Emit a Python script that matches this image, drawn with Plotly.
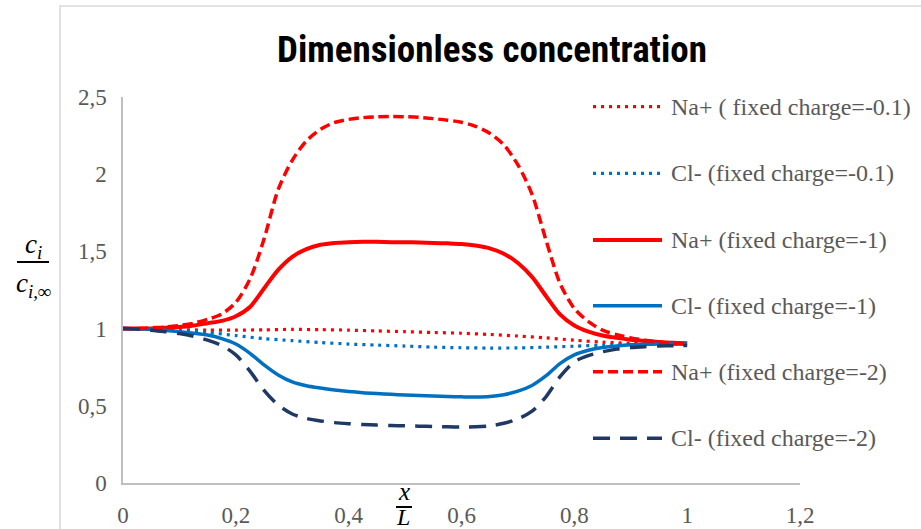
import plotly.graph_objects as go

# ---------------- data ----------------
x_fine = [0.0, 0.025, 0.05, 0.075, 0.1, 0.125, 0.15, 0.175, 0.2, 0.225,
          0.25, 0.275, 0.3, 0.325, 0.35, 0.375, 0.4, 0.425, 0.45, 0.475,
          0.5, 0.525, 0.55, 0.575, 0.6, 0.625, 0.65, 0.675, 0.7, 0.725,
          0.75, 0.775, 0.8, 0.825, 0.85, 0.875, 0.9, 0.925, 0.95, 0.975, 1.0]
x_coarse = [0.0, 0.05, 0.1, 0.15, 0.2, 0.25, 0.3, 0.35, 0.4, 0.45, 0.5,
            0.55, 0.6, 0.65, 0.7, 0.75, 0.8, 0.85, 0.9, 0.95, 1.0]

na_01 = [1.0, 0.998, 0.993, 0.99, 0.99, 0.992, 0.995, 0.993, 0.99, 0.985, 0.98,
         0.975, 0.97, 0.962, 0.952, 0.94, 0.925, 0.912, 0.905, 0.902, 0.9]
cl_01 = [1.0, 0.997, 0.99, 0.975, 0.955, 0.935, 0.922, 0.91, 0.9, 0.893, 0.887,
         0.88, 0.876, 0.874, 0.875, 0.88, 0.886, 0.893, 0.898, 0.9, 0.9]

na_1 = [1.0, 1.0, 1.0, 1.005, 1.01, 1.02, 1.035, 1.05, 1.08, 1.14,
        1.26, 1.38, 1.465, 1.515, 1.543, 1.555, 1.56, 1.562, 1.562, 1.56,
        1.56, 1.558, 1.555, 1.552, 1.548, 1.538, 1.52, 1.485, 1.425, 1.335,
        1.21, 1.09, 1.02, 0.98, 0.955, 0.94, 0.928, 0.92, 0.913, 0.908, 0.905]
cl_1 = [1.0, 0.998, 0.995, 0.99, 0.98, 0.97, 0.958, 0.935, 0.9, 0.84,
        0.765, 0.7, 0.655, 0.63, 0.615, 0.603, 0.593, 0.585, 0.579, 0.574,
        0.57, 0.566, 0.563, 0.56, 0.558, 0.557, 0.56, 0.572, 0.595, 0.632,
        0.695, 0.775, 0.83, 0.86, 0.878, 0.888, 0.895, 0.898, 0.9, 0.9, 0.9]
na_2 = [1.0, 1.0, 1.005, 1.01, 1.02, 1.035, 1.06, 1.095, 1.17, 1.32,
        1.58, 1.90, 2.09, 2.215, 2.29, 2.335, 2.355, 2.366, 2.372, 2.374,
        2.372, 2.368, 2.36, 2.35, 2.337, 2.31, 2.265, 2.19, 2.06, 1.87,
        1.57, 1.29, 1.13, 1.045, 0.99, 0.96, 0.94, 0.925, 0.913, 0.905, 0.9]
cl_2 = [1.0, 0.997, 0.99, 0.98, 0.968, 0.95, 0.925, 0.89, 0.83, 0.725,
        0.6, 0.505, 0.447, 0.418, 0.402, 0.391, 0.384, 0.379, 0.375, 0.372,
        0.37, 0.368, 0.366, 0.364, 0.363, 0.364, 0.37, 0.387, 0.415, 0.465,
        0.56, 0.69, 0.785, 0.825, 0.85, 0.867, 0.877, 0.883, 0.887, 0.889, 0.89]

series_names = ["Na+ ( fixed charge=-0.1)", "Cl- (fixed charge=-0.1)",
                "Na+ (fixed charge=-1)", "Cl- (fixed charge=-1)",
                "Na+ (fixed charge=-2)", "Cl- (fixed charge=-2)"]

x_tickvals = [0, 0.2, 0.4, 0.6, 0.8, 1.0, 1.2]
x_ticktext = ["0", "0,2", "0,4", "0,6", "0,8", "1", "1,2"]
y_tickvals = [0, 0.5, 1.0, 1.5, 2.0, 2.5]
y_ticktext = ["0", "0,5", "1", "1,5", "2", "2,5"]

title_text = "Dimensionless concentration"

# ---------------- styling ----------------
W, H = 921, 529
ML, MR, MT, MB = 123, 121, 97, 46
PW, PH = W - ML - MR, H - MT - MB

RED = "#FF0000"
BLUE = "#0070C0"
NAVY = "#203864"
styles = [
    dict(color=RED, width=3.2, dash="3px,5px"),
    dict(color=BLUE, width=3.2, dash="3px,5px"),
    dict(color=RED, width=4, dash="solid"),
    dict(color=BLUE, width=3.5, dash="solid"),
    dict(color=RED, width=3.5, dash="10px,5px"),
    dict(color=NAVY, width=3.5, dash="17px,10px"),
]
xs = [x_coarse, x_coarse, x_fine, x_fine, x_fine, x_fine]
ys = [na_01, cl_01, na_1, cl_1, na_2, cl_2]

SERIF = "Liberation Serif, DejaVu Serif, serif"
GRAY_TXT = "#595959"


def px(xp):
    return (xp - ML) / PW


def py(yp):
    return (H - MB - yp) / PH


fig = go.Figure()
for name, xv, yv, st in zip(series_names, xs, ys, styles):
    fig.add_trace(go.Scatter(x=xv, y=yv, mode="lines", name=name,
                             line=dict(color=st["color"], width=st["width"],
                                       dash=st["dash"], shape="spline",
                                       smoothing=0.8),
                             showlegend=False, hoverinfo="x+y+name"))

shapes = []
annotations = []

# chart border
shapes.append(dict(type="rect", xref="paper", yref="paper",
                   x0=px(60), x1=px(960), y0=py(560), y1=py(6),
                   line=dict(color="#D9D9D9", width=1.5), fillcolor="rgba(0,0,0,0)",
                   layer="below"))

# custom legend (long line samples like the original)
leg_y = [106.7, 173.3, 240.0, 305.7, 371.7, 438.3]
for name, st, ly in zip(series_names, styles, leg_y):
    shapes.append(dict(type="line", xref="paper", yref="paper",
                       x0=px(593), x1=px(662), y0=py(ly), y1=py(ly),
                       line=dict(color=st["color"], width=st["width"], dash=st["dash"])))
    annotations.append(dict(text=name, xref="paper", yref="paper",
                            x=px(669), y=py(ly), xanchor="left", yanchor="middle",
                            showarrow=False, font=dict(family=SERIF, size=24, color=GRAY_TXT)))

# y-axis label as a fraction  c_i / c_{i,inf}
annotations.append(dict(text="<i>c<sub>i</sub></i>", xref="paper", yref="paper",
                        x=px(33), y=py(246), xanchor="center", yanchor="middle",
                        showarrow=False, font=dict(family=SERIF, size=27, color="#000000")))
shapes.append(dict(type="line", xref="paper", yref="paper",
                   x0=px(17), x1=px(49), y0=py(262), y1=py(262),
                   line=dict(color="#000000", width=2)))
annotations.append(dict(text="<i>c<sub>i,∞</sub></i>", xref="paper", yref="paper",
                        x=px(33), y=py(285), xanchor="center", yanchor="middle",
                        showarrow=False, font=dict(family=SERIF, size=27, color="#000000")))

# x-axis label as a fraction  x / L
annotations.append(dict(text="<i>x</i>", xref="paper", yref="paper",
                        x=px(404), y=py(491), xanchor="center", yanchor="middle",
                        showarrow=False, font=dict(family=SERIF, size=25, color="#000000")))
shapes.append(dict(type="line", xref="paper", yref="paper",
                   x0=px(396), x1=px(412), y0=py(507), y1=py(507),
                   line=dict(color="#000000", width=2)))
annotations.append(dict(text="<i>L</i>", xref="paper", yref="paper",
                        x=px(403), y=py(517), xanchor="center", yanchor="middle",
                        showarrow=False, font=dict(family=SERIF, size=24, color="#000000")))

fig.update_layout(
    width=W, height=H,
    margin=dict(l=ML, r=MR, t=MT, b=MB, pad=0, autoexpand=False),
    paper_bgcolor="white", plot_bgcolor="white",
    title=dict(text="<b>" + title_text + "</b>", x=492 / W, xref="container",
               xanchor="center", y=1 - 49 / H, yref="container", yanchor="middle",
               font=dict(family="Liberation Sans Narrow, Roboto Condensed, Roboto, Liberation Sans, sans-serif",
                         size=37, color="#000000")),
    xaxis=dict(range=[0, 1.2], tickvals=x_tickvals, ticktext=x_ticktext,
               showgrid=False, zeroline=False, showline=True, linecolor="#BFBFBF",
               linewidth=1.5, ticks="", ticklabelstandoff=11, automargin=False,
               tickfont=dict(family=SERIF, size=23, color=GRAY_TXT), fixedrange=True),
    yaxis=dict(range=[0, 2.5], tickvals=y_tickvals, ticktext=y_ticktext,
               showgrid=False, zeroline=False, showline=True, linecolor="#BFBFBF",
               linewidth=1.5, ticks="", ticklabelstandoff=10, automargin=False,
               tickfont=dict(family=SERIF, size=23, color=GRAY_TXT), fixedrange=True),
    shapes=shapes, annotations=annotations, showlegend=False,
)

fig.write_html("out.html")
